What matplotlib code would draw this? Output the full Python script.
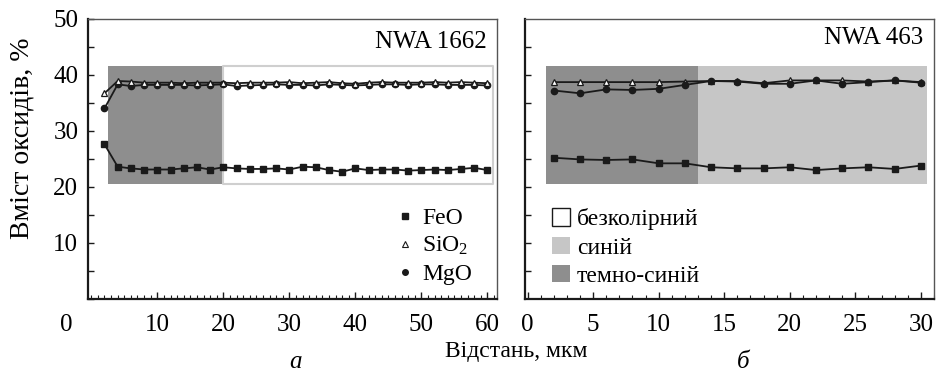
import matplotlib
matplotlib.use('Agg')
import matplotlib.pyplot as plt
from matplotlib.lines import Line2D
from matplotlib.patches import Patch
from matplotlib.ticker import MultipleLocator

plt.rcParams['font.family'] = ['Liberation Serif', 'DejaVu Serif']
plt.rcParams['mathtext.fontset'] = 'custom'
plt.rcParams['mathtext.rm'] = 'Liberation Serif'
plt.rcParams['mathtext.it'] = 'Liberation Serif:italic'

# =============================================================================
#   DATA
# =============================================================================

# Panel a: NWA 1662
dist_a = [2, 4, 6, 8, 10, 12, 14, 16, 18, 20, 22, 24, 26, 28, 30,
          32, 34, 36, 38, 40, 42, 44, 46, 48, 50, 52, 54, 56, 58, 60]
feo_a = [27.6, 23.6, 23.3, 23.1, 23.1, 23.1, 23.3, 23.5, 23.1, 23.5,
         23.3, 23.2, 23.2, 23.3, 23.1, 23.6, 23.5, 23.0, 22.7, 23.3,
         23.0, 23.1, 23.1, 22.9, 23.0, 23.1, 23.0, 23.2, 23.4, 23.0]
sio2_a = [36.7, 38.9, 38.8, 38.6, 38.6, 38.6, 38.5, 38.6, 38.6, 38.6,
          38.5, 38.6, 38.6, 38.6, 38.7, 38.5, 38.6, 38.7, 38.5, 38.4,
          38.6, 38.7, 38.6, 38.6, 38.6, 38.7, 38.6, 38.7, 38.6, 38.5]
mgo_a = [34.0, 38.3, 38.0, 38.2, 38.2, 38.2, 38.2, 38.1, 38.2, 38.3,
         38.0, 38.1, 38.2, 38.3, 38.2, 38.2, 38.1, 38.3, 38.2, 38.1,
         38.2, 38.3, 38.3, 38.2, 38.3, 38.3, 38.2, 38.2, 38.2, 38.1]

# Panel b: NWA 463
dist_b = [2, 4, 6, 8, 10, 12, 14, 16, 18, 20, 22, 24, 26, 28, 30]
feo_b = [25.2, 24.9, 24.8, 24.9, 24.2, 24.2, 23.5, 23.3, 23.3, 23.5,
         23.0, 23.3, 23.5, 23.2, 23.8]
sio2_b = [38.7, 38.7, 38.7, 38.7, 38.7, 38.8, 38.9, 38.9, 38.5, 39.0,
          39.0, 39.0, 38.8, 39.0, 38.7]
mgo_b = [37.2, 36.7, 37.4, 37.3, 37.5, 38.2, 38.9, 38.8, 38.4, 38.4,
         39.0, 38.4, 38.7, 39.0, 38.6]

# Colour zones (start, end, zone name)
zones_a = [(2.6, 20.0, 'dark'), (20.0, 60.8, 'none')]
zones_b = [(1.4, 13.0, 'dark'), (13.0, 30.5, 'blue')]
zone_low, zone_high = 20.5, 41.5

zone_names = ['безколірний', 'синій', 'темно-синій']
oxide_names = ['FeO', r'SiO$_\mathrm{2}$', 'MgO']

# =============================================================================
#   STYLE
# =============================================================================

DARK = '#8e8e8e'
LIGHT = '#c6c6c6'
EDGE = '#cfcfcf'
INK = '#1a1a1a'
FS_TICK = 18
FS_LEG = 17
FS_TITLE = 18

zone_style = {
    'dark': dict(color=DARK, lw=0),
    'blue': dict(color=LIGHT, lw=0),
    'none': dict(facecolor='white', edgecolor=EDGE, lw=1.5),
}


def draw_panel(ax, x, feo, sio2, mgo, zones, mgo_on_top):
    for x0, x1, kind in zones:
        ax.fill_between([x0, x1], zone_low, zone_high, zorder=1,
                        **zone_style[kind])

    ax.plot(x, feo, '-s', color=INK, lw=1.3, ms=4.5, zorder=3)
    z_s, z_m = (4, 5) if mgo_on_top else (5, 4)
    ax.plot(x, sio2, '-^', color=INK, mfc='white', mec=INK, mew=0.9,
            lw=1.3, ms=5, zorder=z_s)
    ax.plot(x, mgo, '-o', color=INK, lw=1.3, ms=4.5, zorder=z_m)

    ax.set_ylim(0, 50)
    ax.tick_params(axis='both', which='both', direction='in',
                   labelsize=FS_TICK, color=INK)
    ax.tick_params(axis='y', which='both', length=4, width=1.0, pad=7)
    ax.tick_params(axis='x', which='major', length=5, width=1.0, pad=11)
    ax.tick_params(axis='x', which='minor', length=3, width=0.8)
    ax.xaxis.set_minor_locator(MultipleLocator(1))
    for side in ['top', 'right']:
        ax.spines[side].set_color('#555555')
        ax.spines[side].set_linewidth(1.0)
    for side in ['left', 'bottom']:
        ax.spines[side].set_color(INK)
        ax.spines[side].set_linewidth(1.6)


fig = plt.figure(figsize=(9.37, 3.76), dpi=100)
ax1 = fig.add_axes([0.0939, 0.205, 0.4361, 0.745])
ax2 = fig.add_axes([0.5603, 0.205, 0.4365, 0.745])

# Panel a
draw_panel(ax1, dist_a, feo_a, sio2_a, mgo_a, zones_a, mgo_on_top=False)
ax1.set_xlim(-0.5, 61.4)
ax1.set_xticks([10, 20, 30, 40, 50, 60])
ax1.set_yticks([10, 20, 30, 40, 50])
ax1.yaxis.set_minor_locator(MultipleLocator(5))
ax1.text(-0.052, -0.093, '0', transform=ax1.transAxes, fontsize=FS_TICK,
         ha='center', va='center')
ax1.text(0.976, 0.918, 'NWA 1662', transform=ax1.transAxes,
         fontsize=FS_TITLE, ha='right', va='center')

oxide_handles = [
    Line2D([], [], ls='none', marker='s', color=INK, ms=4),
    Line2D([], [], ls='none', marker='^', mfc='white', mec=INK, mew=0.8, ms=4.5),
    Line2D([], [], ls='none', marker='o', color=INK, ms=4),
]
ax1.legend(oxide_handles, oxide_names, loc='upper left',
           bbox_to_anchor=(0.752, 0.327), frameon=False, fontsize=FS_LEG,
           handlelength=0.8, handletextpad=0.35, labelspacing=0.26,
           borderpad=0, borderaxespad=0)

# Panel b
draw_panel(ax2, dist_b, feo_b, sio2_b, mgo_b, zones_b, mgo_on_top=True)
ax2.set_xlim(-0.2, 31.0)
ax2.xaxis.set_major_locator(MultipleLocator(5))
ax2.set_yticks([5, 10, 15, 20, 25, 30, 35, 40, 45])
ax2.tick_params(axis='y', labelleft=False)
ax2.text(0.973, 0.93, 'NWA 463', transform=ax2.transAxes,
         fontsize=FS_TITLE, ha='right', va='center')

zone_handles = [
    Patch(facecolor='white', edgecolor=INK, lw=1.0),
    Patch(facecolor=LIGHT, edgecolor='none'),
    Patch(facecolor=DARK, edgecolor='none'),
]
ax2.legend(zone_handles, zone_names, loc='upper left',
           bbox_to_anchor=(0.066, 0.323), frameon=False, fontsize=FS_LEG,
           handlelength=0.76, handleheight=0.76, handletextpad=0.3,
           labelspacing=0.26, borderpad=0, borderaxespad=0)

fig.text(0.0235, 0.633, 'Вміст оксидів, %', fontsize=20, rotation=90,
         ha='center', va='center')
fig.text(0.551, 0.066, 'Відстань, мкм', fontsize=17, ha='center',
         va='center')
fig.text(0.315, 0.036, 'а', fontsize=18, style='italic',
         ha='center', va='center')
fig.text(0.793, 0.036, 'б', fontsize=18, style='italic',
         ha='center', va='center')

fig.savefig('out.png', dpi=100, facecolor='white')
